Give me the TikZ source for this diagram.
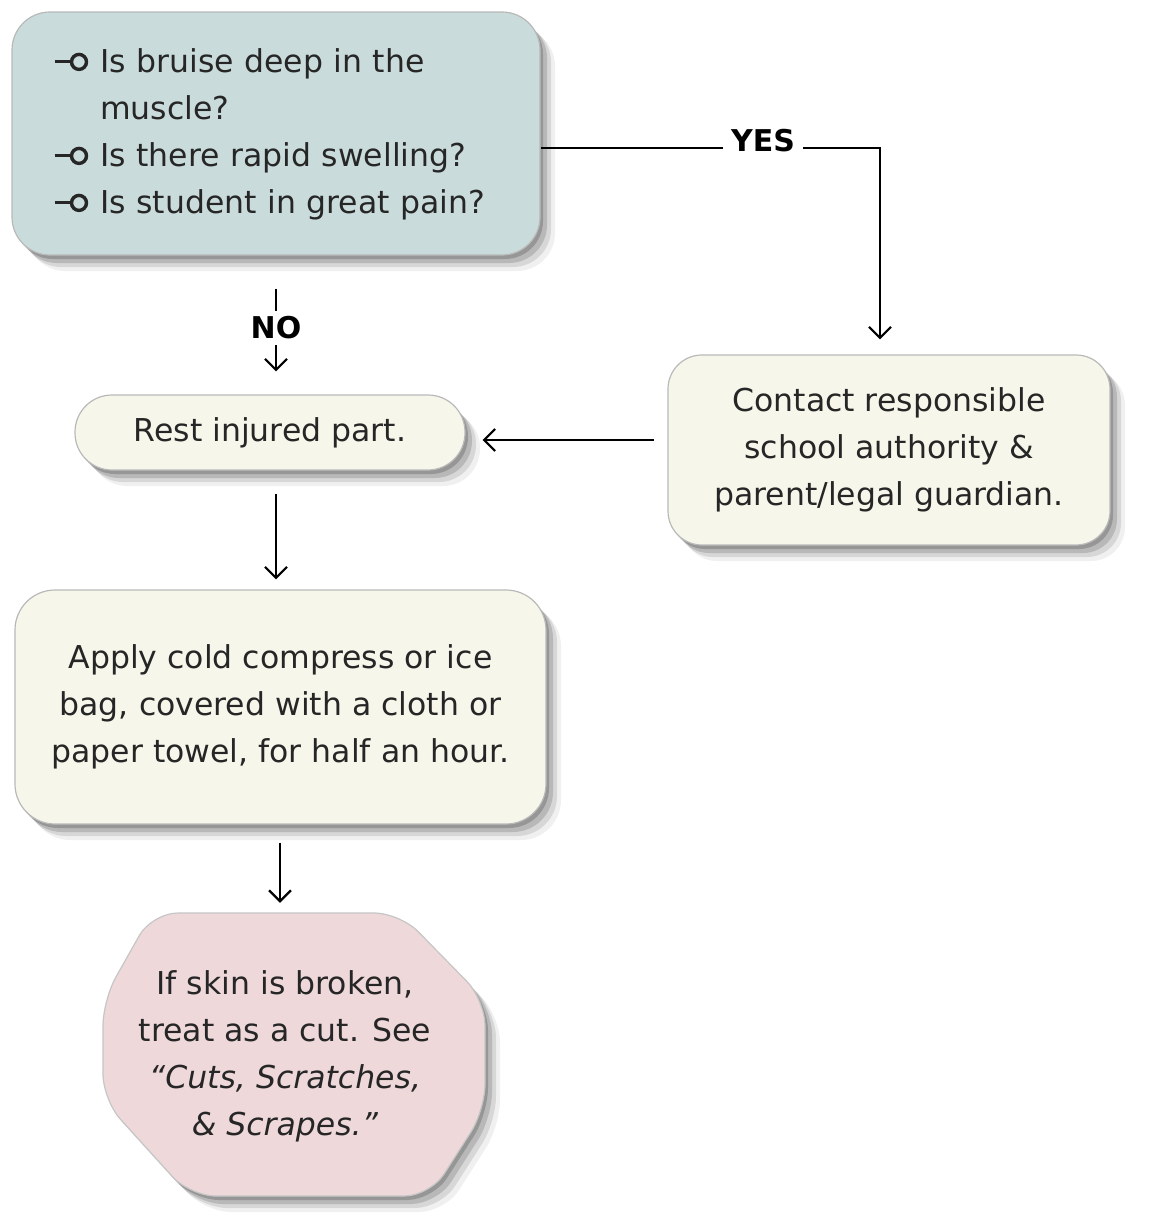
\documentclass[tikz,border=0pt]{standalone}
\usepackage{fontspec}
\setmainfont{DejaVu Sans}
\usetikzlibrary{shadows,arrows.meta}
\definecolor{qfill}{RGB}{202,219,219}
\definecolor{cream}{RGB}{246,246,234}
\definecolor{pinkfill}{RGB}{238,216,218}
\newcommand\bul{\tikz[x=1pt,y=1pt,baseline=0pt]{\draw[line width=3pt] (0,10.5)--(16,10.5);
  \draw[line width=3.4pt] (24.5,10.5) circle (7.5);}}
\tikzset{
 softshadow/.style={
  general shadow={shadow xshift=3pt,shadow yshift=-4pt,fill=black,opacity=.18},
  general shadow={shadow xshift=7pt,shadow yshift=-8pt,fill=black,opacity=.14},
  general shadow={shadow xshift=11pt,shadow yshift=-12pt,fill=black,opacity=.10},
  general shadow={shadow xshift=15pt,shadow yshift=-16pt,fill=black,opacity=.06}},
 box/.style={softshadow, draw=gray!55, line width=1.2pt, inner sep=0pt,
   font=\fontsize{31.5}{47}\selectfont, text=black!85, align=center},
 arr/.style={line width=2.2pt, -{Straight Barb[length=11pt,width=22pt,line width=2.2pt]}},
 lab/.style={fill=white, font=\bfseries\fontsize{30}{32}\selectfont, inner xsep=8pt, inner ysep=6pt}
}
\begin{document}
\begin{tikzpicture}[x=1pt,y=-1pt]
\useasboundingbox (0,0) rectangle (1151,1226);
\fill[white] (0,0) rectangle (1151,1226);

\node[box, fill=qfill, minimum width=528pt, minimum height=243pt, text width=458pt,
  align=left, rounded corners=38pt] (q) at (276,133.5)
  {\begin{tabular}{@{\hspace{6pt}}l@{\hspace{12pt}}l@{}}
   \bul & Is bruise deep in the\\
        & muscle?\\
   \bul & Is there rapid swelling?\\
   \bul & Is student in great pain?
   \end{tabular}};

\node[box, fill=cream, minimum width=390pt, minimum height=75pt, rounded corners=37pt]
  (rest) at (270,432.5) {Rest injured part.};

\node[box, fill=cream, minimum width=442pt, minimum height=190pt, rounded corners=34pt]
  (contact) at (889,450) {Contact responsible\\school authority \&\\parent/legal guardian.};

\node[box, fill=cream, minimum width=531pt, minimum height=234pt, rounded corners=40pt]
  (apply) at (280.5,707) {Apply cold compress or ice\\bag, covered with a cloth or\\paper towel, for half an hour.};

\path[softshadow, fill=pinkfill, draw=gray!45, line width=1.2pt, rounded corners=26pt]
  (152,913) -- (400,913) -- (485,1000) -- (485,1110) -- (430,1196) -- (190,1196)
  -- (103,1100) -- (103,1000) -- cycle;
\node[font=\fontsize{31.5}{47}\selectfont, text=black!85, align=center, inner sep=0pt,
  minimum height=288pt] (cut) at (285,1056)
  {If skin is broken,\\treat as a cut. See\\\textit{“Cuts, Scratches,}\\\textit{\& Scrapes.”}};

% connectors
\coordinate (ycorner) at (880,148);
\draw[arr] ([yshift=-14.5pt]q.east) -- (ycorner) -- ([xshift=-9pt,yshift=15pt]contact.north);
\node[lab] (yes) at (763,141) {YES};

\draw[arr, shorten <=33pt, shorten >=23pt] (q.south) -- (q.south |- rest.north);
\node[lab] (no) at (276,328) {NO};

\draw[arr, shorten <=13pt, shorten >=17pt] ([yshift=10pt]contact.west) -- ([yshift=10pt]contact.west -| rest.east);

\draw[arr, shorten <=23pt, shorten >=10pt] ([xshift=6pt]rest.south) -- ([xshift=6pt]rest.south |- apply.north);

\draw[arr, shorten <=18pt, shorten >=9pt] ([xshift=-0.5pt]apply.south) -- ([xshift=-0.5pt]apply.south |- cut.north);
\end{tikzpicture}
\end{document}
